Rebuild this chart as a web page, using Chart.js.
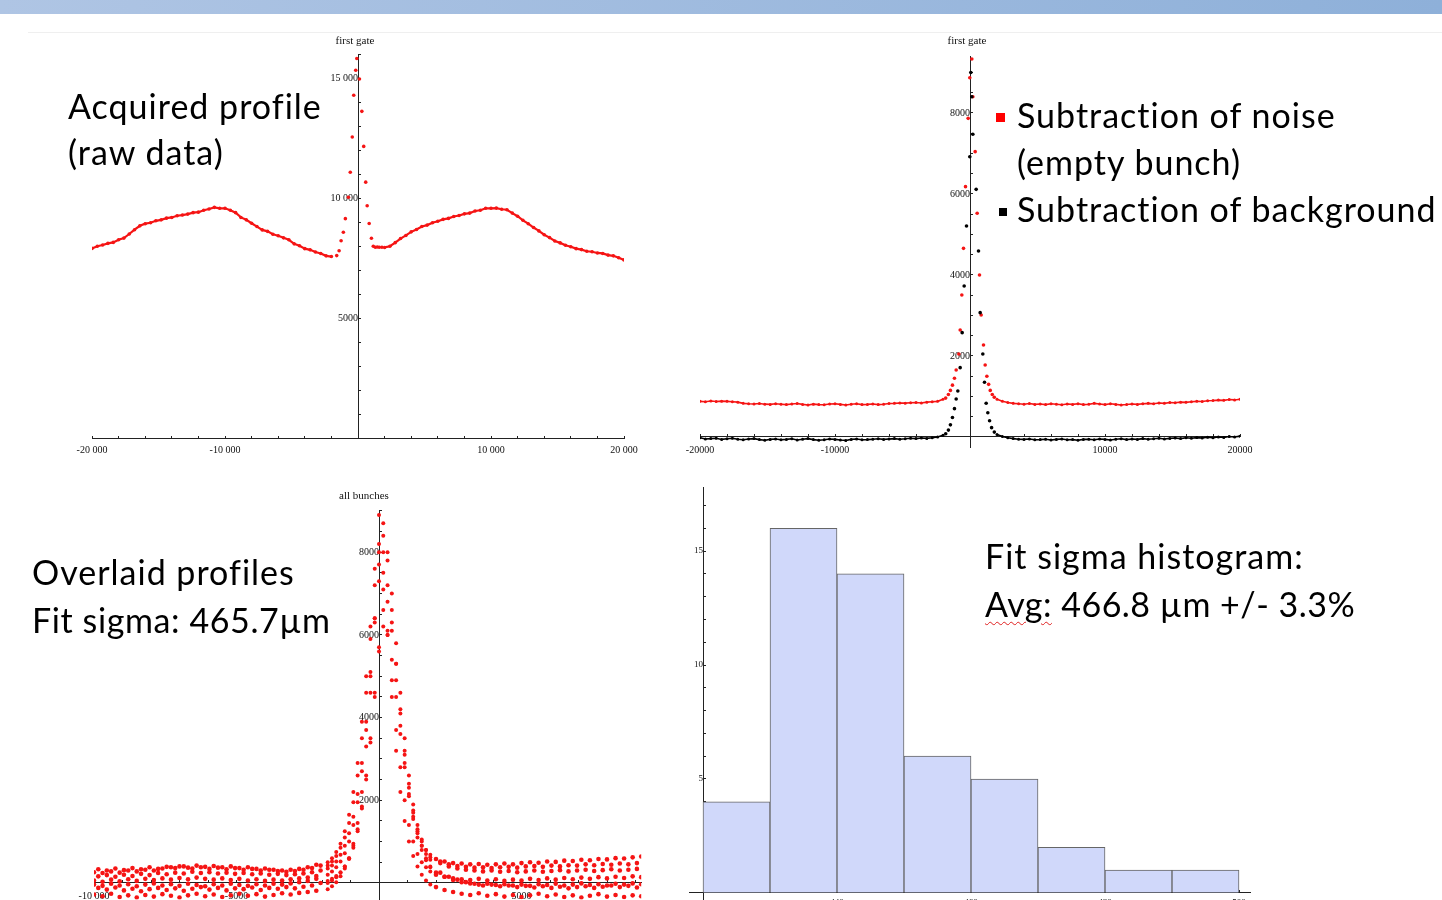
<!DOCTYPE html>
<html>
<head>
<meta charset="utf-8">
<script src="https://cdn.jsdelivr.net/npm/chart.js@4.4.1/dist/chart.umd.min.js"></script>
<style>
  html, body { margin: 0; padding: 0; background: #fff; }
  body { width: 1442px; height: 900px; overflow: hidden; position: relative; font-family: Lato, "Open Sans", sans-serif; }
  .topbar { position: absolute; left: 0; top: 0; width: 1442px; height: 14px; background: linear-gradient(to right, #afc5e4, #8eb0d9); }
  .rule { position: absolute; left: 28px; top: 32px; width: 1414px; height: 1px; background: #efefef; }
  canvas { position: absolute; }
  .txt { position: absolute; font-size: 34px; line-height: 34px; letter-spacing: 1px; color: #000; white-space: nowrap; z-index: 2; }
  .sq { position: absolute; z-index: 2; }
  .squiggle { text-decoration: underline wavy #e02020; text-decoration-thickness: 1px; text-underline-offset: 4px; }
</style>
</head>
<body>
<div class="topbar"></div>
<div class="rule"></div>

<canvas id="rawChart" width="640" height="445" style="left:30px;top:28px"></canvas>
<canvas id="subChart" width="600" height="445" style="left:670px;top:28px"></canvas>
<canvas id="allChart" width="620" height="440" style="left:40px;top:480px"></canvas>
<canvas id="histChart" width="620" height="450" style="left:660px;top:470px"></canvas>

<div class="txt" style="left:68px;top:89px">Acquired profile</div>
<div class="txt" style="left:68px;top:135px">(raw data)</div>

<div class="sq" style="left:996px;top:113px;width:9px;height:9px;background:#ff0000"></div>
<div class="sq" style="left:999px;top:208px;width:8px;height:8px;background:#000"></div>
<div class="txt" style="left:1017px;top:98px">Subtraction of noise</div>
<div class="txt" style="left:1017px;top:145px">(empty bunch)</div>
<div class="txt" style="left:1017px;top:191.5px">Subtraction of background</div>

<div class="txt" style="left:32px;top:555px">Overlaid profiles</div>
<div class="txt" style="left:32px;top:603px;letter-spacing:0.6px">Fit sigma: 465.7µm</div>

<div class="txt" style="left:985px;top:539px">Fit sigma histogram:</div>
<div class="txt" style="left:985px;top:586.5px;letter-spacing:0.5px"><span class="squiggle">Avg:</span> 466.8 µm +/- 3.3%</div>

<script>
// ---- sample positions shared by the two top profiles ----
const xLeft = [-20000, -19600, -19200, -18800, -18400, -18000, -17600, -17200, -16800, -16400,
  -16000, -15600, -15200, -14800, -14400, -14000, -13600, -13200, -12800, -12400,
  -12000, -11600, -11200, -10800, -10400, -10000, -9600, -9200, -8800, -8400,
  -8000, -7600, -7200, -6800, -6400, -6000, -5600, -5200, -4800, -4400,
  -4000, -3600, -3200, -2800, -2400, -2000];
const xRight = [2000, 2400, 2800, 3200, 3600, 4000, 4400, 4800, 5200, 5600,
  6000, 6400, 6800, 7200, 7600, 8000, 8400, 8800, 9200, 9600,
  10000, 10400, 10800, 11200, 11600, 12000, 12400, 12800, 13200, 13600,
  14000, 14400, 14800, 15200, 15600, 16000, 16400, 16800, 17200, 17600,
  18000, 18400, 18800, 19200, 19600, 20000];

// ---- acquired profile (raw data) ----
const rawLeft = [7900, 7990, 8040, 8110, 8150, 8260, 8330, 8500, 8680, 8840,
  8930, 8970, 9050, 9090, 9160, 9190, 9260, 9290, 9330, 9390,
  9410, 9490, 9540, 9610, 9570, 9570, 9490, 9390, 9190, 9090,
  8950, 8810, 8670, 8610, 8490, 8430, 8340, 8260, 8090, 8010,
  7890, 7840, 7750, 7690, 7590, 7560];
const rawPeakX = [-1600, -1420, -1270, -1100, -950, -720, -580, -430, -320, -170, -90,
  110, 290, 430, 580, 690, 840, 1010, 1150, 1300, 1450, 1600, 1800];
const rawPeak = [7600, 7800, 8220, 8570, 9140, 10030, 11070, 12540, 14280, 15320, 15810,
  14960, 13610, 12150, 10660, 9680, 8940, 8320, 7990, 7950, 7960, 7950, 7945];
const rawRight = [7940, 7990, 8140, 8310, 8440, 8590, 8690, 8810, 8870, 8970,
  9030, 9110, 9150, 9230, 9270, 9340, 9370, 9460, 9490, 9570,
  9570, 9580, 9530, 9510, 9370, 9240, 9070, 8930, 8770, 8630,
  8470, 8350, 8210, 8130, 8030, 7970, 7890, 7850, 7780, 7760,
  7710, 7690, 7620, 7590, 7510, 7420];
const rawXTicks = [-20000, -10000, 10000, 20000];
const rawXLabels = ['-20 000', '-10 000', '10 000', '20 000'];
const rawYTicks = [5000, 10000, 15000];
const rawYLabels = ['5000', '10 000', '15 000'];

// ---- subtraction of noise (red) ----
const noiseLeft = [880, 870, 890, 875, 885, 880, 870, 860, 830, 820,
  815, 825, 810, 805, 820, 810, 800, 815, 825, 805,
  790, 810, 800, 795, 815, 820, 805, 790, 810, 820,
  800, 805, 815, 800, 810, 825, 830, 840, 835, 845,
  850, 840, 860, 870, 880, 930];
const noisePeakX = [-1800, -1600, -1450, -1300, -1150, -1025, -827, -728, -605, -481, -333, -136, -15,
  135, 210, 383, 531, 704, 827, 1000, 1123, 1250, 1380, 1500, 1650, 1800];
const noisePeak = [960, 1050, 1150, 1280, 1450, 1654, 2049, 2642, 3506, 4658, 6181, 7868, 8872,
  9333, 8403, 7045, 5523, 4000, 3012, 2272, 1778, 1500, 1300, 1150, 1050, 980];
const noiseRight = [930, 880, 850, 830, 820, 810, 825, 805, 815, 800,
  820, 810, 795, 815, 805, 820, 800, 810, 830, 815,
  800, 820, 805, 790, 800, 815, 805, 820, 830, 820,
  840, 830, 850, 845, 860, 855, 870, 880, 875, 895,
  900, 910, 905, 925, 915, 930];

// ---- subtraction of background (black) ----
const bgLeft = [-20, -50, -40, -30, -60, -45, -30, -55, -70, -50,
  -40, -65, -80, -60, -50, -70, -60, -45, -75, -55,
  -40, -65, -80, -70, -50, -60, -75, -85, -60, -50,
  -70, -65, -55, -45, -60, -50, -40, -55, -45, -30,
  -40, -25, -35, -20, 0, 40];
const bgPeakX = [-1800, -1600, -1450, -1300, -1150, -1025, -901, -728, -580, -432, -259, -15,
  60, 135, 210, 457, 630, 753, 950, 1074, 1197, 1320, 1450, 1600, 1800];
const bgPeak = [80, 170, 300, 480, 700, 938, 1136, 1712, 2576, 3728, 5210, 6921,
  9000, 8403, 7474, 6115, 4593, 3070, 2049, 1350, 831, 600, 400, 230, 120];
const bgRight = [60, 10, -20, -40, -55, -60, -50, -70, -65, -55,
  -75, -60, -50, -70, -65, -80, -60, -55, -70, -50,
  -60, -75, -55, -45, -65, -50, -60, -40, -55, -45,
  -30, -50, -35, -25, -40, -20, -30, -15, -25, -5,
  -20, 0, -10, 10, 0, 20];
const subXTicks = [-20000, -10000, 10000, 20000];
const subXLabels = ['-20000', '-10000', '10000', '20000'];
const subYTicks = [2000, 4000, 6000, 8000];
const subYLabels = ['2000', '4000', '6000', '8000'];

// ---- overlaid profiles, all bunches ----
const x3LeftA = [-10000, -9700, -9400, -9100, -8800, -8500, -8200, -7900, -7600, -7300,
  -7000, -6700, -6400, -6100, -5800, -5500, -5200, -4900, -4600, -4300,
  -4000, -3700, -3400, -3100, -2800, -2500, -2200];
const x3LeftB = [-9850, -9550, -9250, -8950, -8650, -8350, -8050, -7750, -7450, -7150,
  -6850, -6550, -6250, -5950, -5650, -5350, -5050, -4750, -4450, -4150,
  -3850, -3550, -3250, -2950, -2650, -2350, -2050];
const x3RightA = [2000, 2300, 2600, 2900, 3200, 3500, 3800, 4100, 4400, 4700,
  5000, 5300, 5600, 5900, 6200, 6500, 6800, 7100, 7400, 7700,
  8000, 8300, 8600, 8900, 9200];
const x3RightB = [2150, 2450, 2750, 3050, 3350, 3650, 3950, 4250, 4550, 4850,
  5150, 5450, 5750, 6050, 6350, 6650, 6950, 7250, 7550, 7850,
  8150, 8450, 8750, 9050];
const x3Peak = [-1800, -1650, -1500, -1350, -1200, -1050, -900, -750, -600, -450, -300, -150, 0,
  150, 300, 450, 600, 750, 900, 1050, 1200, 1350, 1500, 1650, 1800];

const bunchALeft = [260, 240, 280, 250, 300, 280, 320, 300, 350, 380, 400, 370, 420, 390,
  410, 380, 400, 360, 380, 340, 350, 320, 300, 320, 340, 380, 440];
const bunchAPeak = [500, 600, 750, 950, 1250, 1650, 2200, 2900, 3900, 5000, 6200, 7600, 8900,
  8700, 7800, 6600, 5300, 4100, 3100, 2300, 1700, 1300, 1000, 800, 680];
const bunchARight = [580, 520, 480, 470, 450, 460, 440, 450, 470, 450, 480, 500, 490,
  520, 510, 540, 530, 560, 550, 580, 570, 600, 590, 620, 640];

const bunchBLeft = [160, 190, 150, 200, 170, 220, 190, 240, 210, 250, 230, 270, 240, 260,
  230, 250, 220, 240, 210, 230, 200, 220, 190, 210, 230, 260, 300];
const bunchBPeak = [350, 420, 520, 680, 900, 1200, 1600, 2150, 2900, 3900, 5100, 6400, 7700,
  8400, 8000, 7000, 5800, 4600, 3500, 2600, 1900, 1400, 1050, 800, 620];
const bunchBRight = [480, 400, 350, 320, 300, 280, 300, 270, 290, 260, 280, 300,
  270, 290, 310, 280, 300, 320, 290, 310, 330, 300, 320, 340];

const bunchCLeft = [60, 30, 80, 40, 90, 50, 100, 70, 110, 80, 120, 90, 130, 100,
  80, 110, 70, 100, 60, 90, 50, 80, 60, 90, 110, 130, 170];
const bunchCPeak = [200, 280, 380, 520, 720, 1000, 1400, 1950, 2700, 3700, 5000, 6400, 7300,
  7100, 6100, 4900, 3700, 2800, 2000, 1400, 1000, 700, 500, 380, 280];
const bunchCRight = [200, 150, 110, 90, 70, 100, 60, 90, 50, 80, 60, 100, 70,
  110, 80, 120, 90, 130, 100, 140, 110, 150, 120, 160, 140];

const bunchDLeft = [-120, -160, -110, -180, -140, -200, -150, -120, -170, -130, -190, -140, -100, -160,
  -120, -180, -130, -150, -110, -170, -120, -140, -100, -130, -90, -60, 0];
const bunchDPeak = [50, 100, 170, 260, 400, 580, 850, 1250, 1800, 2500, 3400, 4500, 5600,
  6200, 6000, 5400, 4500, 3600, 2800, 2100, 1550, 1100, 800, 550, 380];
const bunchDRight = [250, 150, 80, 20, -20, -60, -40, -80, -60, -100, -70, -110,
  -80, -120, -90, -130, -100, -80, -120, -90, -60, -100, -70, -110];

const bunchELeft = [-280, -320, -260, -340, -300, -350, -290, -330, -270, -310, -350, -300, -260, -320,
  -280, -340, -300, -260, -310, -270, -330, -290, -250, -280, -240, -220, -190];
const bunchEPeak = [-150, -80, 20, 160, 350, 600, 950, 1450, 2200, 3300, 4600, 6300, 8000,
  7500, 6000, 4500, 3200, 2200, 1500, 1000, 650, 400, 200, 60, -40];
const bunchERight = [-100, -170, -220, -260, -290, -250, -310, -270, -330, -290, -340, -300, -260,
  -320, -280, -340, -300, -350, -310, -270, -330, -290, -340, -300, -320];

const bunchFLeft = [330, 300, 350, 310, 360, 330, 380, 340, 390, 360, 400, 350, 380, 340,
  370, 330, 360, 320, 340, 300, 320, 290, 270, 290, 320, 360, 420];
const bunchFPeak = [420, 520, 650, 850, 1100, 1450, 1950, 2600, 3500, 4600, 5900, 7200, 8200,
  8000, 7200, 6100, 4900, 3800, 2900, 2150, 1600, 1200, 900, 700, 560];
const bunchFRight = [520, 450, 410, 390, 370, 380, 360, 380, 390, 370, 400, 410,
  390, 420, 400, 430, 420, 450, 430, 460, 440, 470, 450, 480];

const bunchGLeft = [-40, -70, -20, -60, -30, -80, -40, -10, -60, -30, -70, -20, -50, -80,
  -30, -60, -20, -50, -70, -30, -60, -20, -40, -10, 20, 50, 100];
const bunchGPeak = [0, 60, 140, 250, 400, 600, 900, 1300, 1850, 2600, 3500, 4600, 5700,
  6600, 6800, 6300, 5300, 4200, 3200, 2400, 1750, 1250, 900, 600, 400];
const bunchGRight = [250, 150, 70, 20, -10, -40, -20, -50, -30, -60, -40, -70, -30,
  -50, -20, -60, -40, -10, -50, -30, -60, -20, -40, -10, -30];

const allXTicks = [-10000, -5000, 5000];
const allXLabels = ['-10 000', '-5000', '5000'];
const allYTicks = [2000, 4000, 6000, 8000];
const allYLabels = ['2000', '4000', '6000', '8000'];

// ---- fit sigma histogram ----
const histCenters = [425, 435, 445, 455, 465, 475, 485, 495];
const histCounts = [4, 16, 14, 6, 5, 2, 1, 1];
const histXTicks = [440, 460, 480, 500];
const histXLabels = ['440', '460', '480', '500'];
const histYTicks = [5, 10, 15];
const histYLabels = ['5', '10', '15'];

const SERIF = '"Liberation Serif", "DejaVu Serif", serif';
const RED = '#f51414';

function pts(xs, ys) {
  return xs.map((x, i) => ({ x: x, y: ys[i] }));
}

function dots(xs, ys, color, r, line) {
  return {
    data: pts(xs, ys),
    showLine: !!line,
    borderColor: color,
    borderWidth: line || 0,
    backgroundColor: color,
    pointRadius: r,
    pointHoverRadius: r,
    pointBorderWidth: 0
  };
}

function labeler(ticks, labels) {
  return v => {
    const i = ticks.indexOf(v);
    return i >= 0 ? labels[i] : '';
  };
}

// Mathematica-style axis crossing the other axis at `at`
function axis(isX, min, max, step, at, ticks, labels, size, pad) {
  return {
    type: 'linear',
    min: min,
    max: max,
    offset: false,
    position: isX ? { y: at } : { x: at },
    afterFit: s => { if (isX) s.height = 0; else s.width = 0; },
    // one tick mark on every multiple of `step`
    afterBuildTicks: s => {
      const out = [];
      for (let k = Math.ceil(min / step - 1e-9); k * step <= max + 1e-9; k++) out.push({ value: k * step });
      s.ticks = out;
    },
    border: { display: true, color: '#222', width: 1 },
    grid: { display: true, offset: false, drawOnChartArea: false, drawTicks: true, tickLength: -3, tickColor: '#222' },
    ticks: {
      autoSkip: false,
      maxRotation: 0,
      color: '#111',
      padding: pad,
      font: { family: SERIF, size: size },
      callback: labeler(ticks, labels)
    }
  };
}

// small serif label above the vertical axis ("first gate", "all bunches")
const axisTitle = {
  id: 'axisTitle',
  afterDraw(chart, args, opts) {
    if (!opts.text) return;
    const ctx = chart.ctx;
    const px = chart.scales.x.getPixelForValue(opts.at) + (opts.dx || 0);
    ctx.save();
    ctx.font = '11px ' + SERIF;
    ctx.fillStyle = '#111';
    ctx.textAlign = 'center';
    ctx.textBaseline = 'middle';
    ctx.fillText(opts.text, px, opts.y);
    ctx.restore();
  }
};

function baseOptions(padding, title, scales) {
  return {
    responsive: false,
    maintainAspectRatio: false,
    animation: false,
    events: [],
    layout: { padding: padding },
    plugins: { legend: { display: false }, tooltip: { enabled: false }, axisTitle: title },
    scales: scales
  };
}

// top left: acquired profile
new Chart(document.getElementById('rawChart'), {
  type: 'scatter',
  data: {
    datasets: [
      dots(rawPeakX, rawPeak, RED, 1.8, 0),
      dots(xLeft, rawLeft, RED, 1.8, 2.2),
      dots(xRight, rawRight, RED, 1.8, 2.2)
    ]
  },
  options: baseOptions({ left: 62, right: 46, top: 26, bottom: 35 },
    { text: 'first gate', at: 0, dx: -3, y: 13 }, {
      x: axis(true, -20000, 20000, 2000, 0, rawXTicks, rawXLabels, 10, 9),
      y: axis(false, 0, 16000, 1000, 0, rawYTicks, rawYLabels, 10, 9)
    }),
  plugins: [axisTitle]
});

// top right: noise and background subtraction
new Chart(document.getElementById('subChart'), {
  type: 'scatter',
  data: {
    datasets: [
      dots(bgPeakX, bgPeak, '#000', 1.8, 0),
      dots(xLeft, bgLeft, '#000', 1.5, 1.6),
      dots(xRight, bgRight, '#000', 1.5, 1.6),
      dots(noisePeakX, noisePeak, RED, 1.8, 0),
      dots(xLeft, noiseLeft, RED, 1.5, 1.6),
      dots(xRight, noiseRight, RED, 1.5, 1.6)
    ]
  },
  options: baseOptions({ left: 30, right: 30, top: 28.3, bottom: 25.9 },
    { text: 'first gate', at: 0, dx: -3, y: 13 }, {
      x: axis(true, -20000, 20000, 2000, 0, subXTicks, subXLabels, 10, 10),
      y: axis(false, -250, 9400, 500, 0, subYTicks, subYLabels, 10, 9)
    }),
  plugins: [axisTitle]
});

// bottom left: overlaid profiles of all bunches
const bunchDatasets = [];
[[x3LeftA, bunchALeft, x3RightA, bunchARight, bunchAPeak],
 [x3LeftB, bunchBLeft, x3RightB, bunchBRight, bunchBPeak],
 [x3LeftA, bunchCLeft, x3RightA, bunchCRight, bunchCPeak],
 [x3LeftB, bunchDLeft, x3RightB, bunchDRight, bunchDPeak],
 [x3LeftA, bunchELeft, x3RightA, bunchERight, bunchEPeak],
 [x3LeftB, bunchFLeft, x3RightB, bunchFRight, bunchFPeak],
 [x3LeftA, bunchGLeft, x3RightA, bunchGRight, bunchGPeak]].forEach(b => {
  bunchDatasets.push(dots(b[0], b[1], RED, 2.3, 0));
  bunchDatasets.push(dots(b[2], b[3], RED, 2.3, 0));
  bunchDatasets.push(dots(x3Peak, b[4], RED, 2.0, 0));
});

new Chart(document.getElementById('allChart'), {
  type: 'scatter',
  data: { datasets: bunchDatasets },
  options: baseOptions({ left: 54, right: 18.8, top: 30.85, bottom: 20.5 },
    { text: 'all bunches', at: 0, dx: -15, y: 16 }, {
      x: axis(true, -10000, 9200, 1000, 0, allXTicks, allXLabels, 10, 10),
      y: axis(false, -400, 9000, 500, 0, allYTicks, allYLabels, 10, 9)
    }),
  plugins: [axisTitle]
});

// bottom right: fit sigma histogram
new Chart(document.getElementById('histChart'), {
  type: 'bar',
  data: {
    datasets: [{
      data: pts(histCenters, histCounts),
      backgroundColor: 'rgb(208,216,250)',
      borderColor: '#666',
      borderWidth: 1,
      borderSkipped: 'start',
      barThickness: 'flex',
      barPercentage: 1,
      categoryPercentage: 1
    }]
  },
  options: baseOptions({ left: 29.6, right: 29.6, top: 17.2, bottom: 20.2 },
    { text: '' }, {
      x: axis(true, 418, 501.7, 5, 0, histXTicks, histXLabels, 9, 7),
      y: axis(false, -0.3, 17.8, 1, 420, histYTicks, histYLabels, 9, 9)
    }),
  plugins: [axisTitle]
});
</script>
</body>
</html>
